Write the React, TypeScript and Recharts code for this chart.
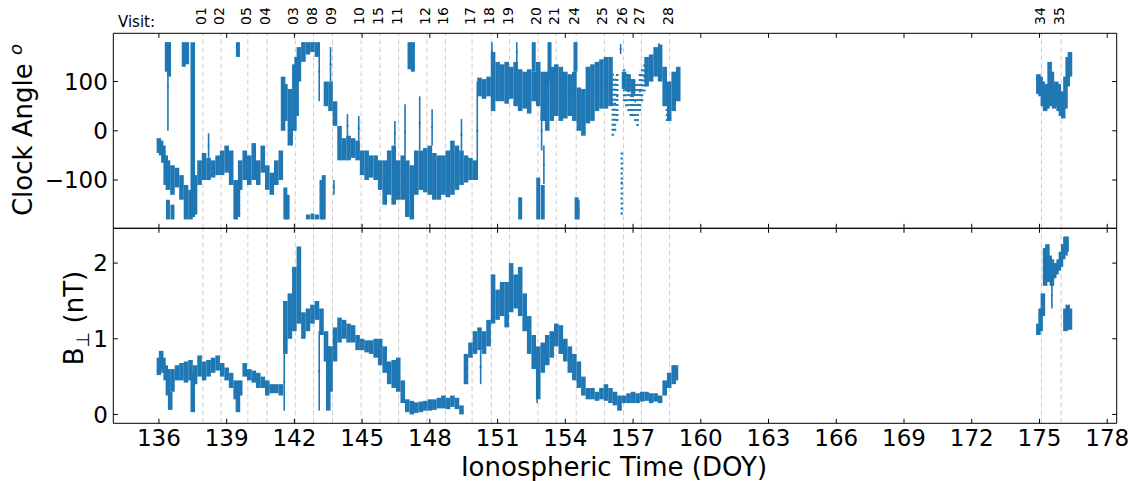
import React from "react";
import { ScatterChart, Scatter, XAxis, YAxis, ErrorBar, ReferenceLine } from "recharts";

// Clock angle and B-perp vs ionospheric time, two stacked panels with visit markers

const BLUE = "#1f77b4";
const FONT = "DejaVu Sans, sans-serif";
const WIDTH = 1138;
const HEIGHT = 481;
const LEFT = 113.3;
const RIGHT = 21.3;
const PANEL_TOP = 33.3;
const PANEL_MID = 228.3;
const PANEL_BOTTOM = 423.3;
const TICK_LEN = 4.5;

const doyTicks = [136, 139, 142, 145, 148, 151, 154, 157, 160, 163, 166, 169, 172, 175, 178];
const doyDomain: [number, number] = [133.98, 178.42];
const angleTicks = [-100, 0, 100];
const angleDomain: [number, number] = [-198, 198];
const bperpTicks = [0, 1, 2];
const bperpDomain: [number, number] = [-0.117, 2.46];

const visitNames = ["01", "02", "05", "04", "03", "08", "09", "10", "15", "11", "12", "16", "17", "18", "19", "20", "21", "24", "25", "26", "27", "28", "34", "35"];
const visitDoy = [137.95, 138.75, 139.94, 140.79, 142.04, 142.85, 143.69, 144.96, 145.8, 146.62, 147.87, 148.69, 149.87, 150.72, 151.53, 152.79, 153.6, 154.48, 155.73, 156.58, 157.37, 158.62, 175.09, 175.96];

// [doy, low, high]
type Row = [number, number, number];

const angleBand: Row[] = [
	[136.0, -45, -15], [136.1, -50, -20], [136.2, -65, -30], [136.3, -110, -50], [136.4, -120, -60],
	[136.6, -130, -70], [136.8, -115, -75], [137.0, -140, -90], [137.2, -180, -110], [137.4, -180, -120],
	[137.5, -175, 180], [137.6, -170, -90], [137.8, -110, -60], [138.0, -100, -45], [138.2, -100, -55],
	[138.4, -95, -60], [138.6, -90, -50], [138.8, -90, -40], [139.0, -85, -30], [139.2, -110, -40],
	[139.4, -180, -100], [139.5, -175, -110], [139.6, -120, -60], [139.8, -100, -40], [140.0, -110, -50],
	[140.2, -100, -25], [140.4, -110, -60], [140.6, -85, -30], [140.8, -120, -70], [141.0, -130, -85],
	[141.2, -110, -60], [141.4, -100, -40], [141.5, 0, 110], [141.6, 20, 95], [141.8, -30, 85],
	[142.0, 0, 135], [142.1, 30, 150], [142.2, 100, 170], [142.4, 140, 180], [142.6, 155, 180],
	[142.8, 160, 180], [143.0, 150, 180], [143.4, 50, 100], [143.6, 40, 100], [143.8, 10, 60],
	[144.0, -60, 10], [144.2, -60, -15], [144.4, -60, -10], [144.6, -55, -15], [144.8, -60, -20],
	[145.0, -90, -40], [145.2, -100, -40], [145.4, -95, -50], [145.6, -100, -50], [145.8, -120, -60],
	[146.0, -150, -60], [146.2, -130, -40], [146.4, -150, -30], [146.6, -140, -60], [146.8, -140, -50],
	[147.0, -175, -60], [147.2, -180, -70], [147.4, -130, -40], [147.6, -120, -40], [147.8, -125, -35],
	[148.0, -130, -30], [148.2, -140, -45], [148.4, -140, -50], [148.6, -130, -50], [148.8, -135, -40],
	[149.0, -130, -20], [149.2, -120, -30], [149.4, -110, -40], [149.6, -105, -50], [149.8, -100, -55],
	[150.0, -100, -60], [150.2, 70, 108], [150.4, 65, 105], [150.6, 70, 110], [150.8, 40, 160],
	[151.0, 60, 140], [151.2, 60, 135], [151.4, 55, 140], [151.6, 65, 130], [151.8, 50, 140],
	[152.0, 40, 125], [152.2, 45, 120], [152.4, 35, 125], [152.6, 60, 120], [152.8, 50, 140],
	[153.0, 20, 120], [153.2, 0, 120], [153.4, 20, 130], [153.6, 30, 135], [153.8, 20, 130],
	[154.0, 25, 120], [154.2, 30, 115], [154.4, 20, 120], [154.6, 0, 88], [154.8, -10, 85],
	[155.0, 15, 130], [155.2, 20, 135], [155.4, 40, 140], [155.6, 45, 145], [155.8, 45, 150],
	[156.0, 50, 150], [156.6, 85, 120], [156.8, 80, 115], [157.0, 75, 105], [157.6, 90, 150],
	[157.8, 100, 155], [158.0, 110, 170], [158.2, 100, 175], [158.4, 50, 130], [158.6, 20, 100],
	[158.8, 40, 120], [159.0, 60, 130],
	[174.95, 75, 115], [175.05, 70, 110], [175.15, 50, 100], [175.25, 40, 90], [175.35, 45, 95],
	[175.45, 50, 140], [175.55, 55, 120], [175.65, 45, 90], [175.75, 50, 100], [175.85, 40, 95],
	[175.95, 30, 75], [176.05, 25, 80], [176.15, 45, 110], [176.25, 90, 150], [176.35, 110, 160],
];

// wrapped pieces near +/-180
const angleWrap: Row[] = [
	[136.35, 120, 180], [136.45, 110, 180], [136.4, -180, -140], [136.6, -180, -150],
	[137.1, 130, 180], [137.25, 135, 180], [139.5, 150, 180], [141.6, -180, -115], [141.7, -180, -130],
	[142.6, -180, -170], [142.8, -180, -168], [143.0, -180, -170], [143.2, -180, -100], [143.3, -180, -90],
	[147.1, 125, 180], [147.25, 120, 180], [152.0, -180, -135], [152.6, 120, 180], [152.8, -180, -95],
	[153.0, -180, -110], [153.3, 100, 180], [154.45, 120, 180], [154.5, -180, -135],
];

const angleThin: Row[] = [
	[136.4, 0, 180], [138.2, -55, -5], [141.9, -30, 10], [143.1, 60, 180], [143.6, 100, 170],
	[143.75, -130, -100], [144.35, -15, 34], [144.85, -20, 30], [146.05, -150, -120], [146.45, -30, 20],
	[146.9, -60, 54], [147.55, -40, 70], [148.1, -30, 44], [149.4, -40, 24], [150.1, -100, 100],
	[150.75, 140, 180], [151.85, 140, 180], [152.95, -40, 40], [153.05, -108, -30], [154.6, -180, -140],
	[156.45, 156, 176], [158.15, 160, 178],
];

const angleSparse: Row[] = [
	[156.1, -10, 120], [156.2, 0, 110], [156.3, 20, 120], [156.5, -170, -40], [156.6, 60, 125],
	[156.7, 50, 120], [156.8, 40, 120], [156.9, 30, 110], [157.0, 30, 110], [157.1, 20, 100],
	[157.2, 10, 95], [157.3, 40, 120], [157.4, 60, 125], [157.5, 80, 140], [158.5, 20, 90],
];

const bperpBand: Row[] = [
	[136.0, 0.52, 0.75], [136.1, 0.6, 0.84], [136.2, 0.55, 0.75], [136.3, 0.45, 0.65], [136.4, 0.25, 0.6],
	[136.5, 0.06, 0.3], [136.6, 0.3, 0.6], [136.8, 0.45, 0.65], [137.0, 0.45, 0.68], [137.2, 0.42, 0.7],
	[137.4, 0.45, 0.72], [137.5, 0.03, 0.55], [137.6, 0.4, 0.65], [137.8, 0.5, 0.78], [138.0, 0.45, 0.7],
	[138.2, 0.5, 0.72], [138.4, 0.55, 0.75], [138.6, 0.58, 0.78], [138.8, 0.5, 0.68], [139.0, 0.45, 0.62],
	[139.2, 0.35, 0.55], [139.4, 0.2, 0.45], [139.5, 0.03, 0.3], [139.6, 0.25, 0.45], [139.8, 0.5, 0.68],
	[140.0, 0.45, 0.6], [140.2, 0.42, 0.58], [140.4, 0.35, 0.55], [140.6, 0.35, 0.5], [140.8, 0.25, 0.45],
	[141.0, 0.28, 0.4], [141.2, 0.28, 0.4], [141.4, 0.25, 0.4], [141.6, 0.8, 1.5], [141.8, 1.0, 1.6],
	[142.0, 1.1, 1.95], [142.2, 1.2, 2.22], [142.4, 1.0, 1.35], [142.6, 1.1, 1.4], [142.8, 1.2, 1.45],
	[143.0, 1.25, 1.5], [143.2, 1.05, 1.4], [143.4, 0.7, 1.1], [143.5, 0.05, 0.9], [143.6, 0.3, 0.9],
	[143.8, 0.7, 1.15], [144.0, 0.95, 1.28], [144.2, 1.0, 1.25], [144.4, 0.95, 1.2], [144.6, 0.95, 1.18],
	[144.8, 0.85, 1.05], [145.0, 0.85, 1.0], [145.2, 0.82, 0.98], [145.4, 0.8, 0.98], [145.6, 0.75, 1.0],
	[145.8, 0.65, 1.0], [146.0, 0.55, 0.9], [146.2, 0.4, 0.7], [146.4, 0.35, 0.72], [146.6, 0.3, 0.75],
	[146.8, 0.15, 0.45], [147.0, 0.03, 0.2], [147.2, 0.0, 0.18], [147.4, 0.02, 0.16], [147.6, 0.03, 0.17],
	[147.8, 0.05, 0.18], [148.0, 0.05, 0.2], [148.2, 0.06, 0.2], [148.4, 0.08, 0.22], [148.6, 0.08, 0.25],
	[148.8, 0.07, 0.22], [149.0, 0.1, 0.25], [149.2, 0.07, 0.22], [149.4, 0.0, 0.12], [149.6, 0.4, 0.8],
	[149.8, 0.75, 0.95], [150.0, 0.8, 1.1], [150.2, 0.85, 1.15], [150.4, 0.8, 1.1], [150.6, 0.9, 1.25],
	[150.8, 1.2, 1.85], [151.0, 1.25, 1.65], [151.2, 1.3, 1.75], [151.4, 1.15, 1.75], [151.6, 1.35, 2.0],
	[151.8, 1.4, 1.85], [152.0, 1.3, 1.95], [152.2, 1.1, 1.6], [152.4, 0.8, 1.3], [152.6, 0.6, 1.05],
	[152.8, 0.2, 0.9], [153.0, 0.55, 0.95], [153.2, 0.65, 1.05], [153.4, 0.75, 1.1], [153.6, 0.9, 1.2],
	[153.8, 0.8, 1.18], [154.0, 0.7, 1.0], [154.2, 0.55, 0.9], [154.4, 0.45, 0.8], [154.6, 0.35, 0.7],
	[154.8, 0.25, 0.5], [155.0, 0.2, 0.35], [155.2, 0.2, 0.35], [155.4, 0.18, 0.3], [155.6, 0.2, 0.35],
	[155.8, 0.18, 0.4], [156.0, 0.15, 0.35], [156.2, 0.12, 0.3], [156.4, 0.05, 0.25], [156.6, 0.15, 0.25],
	[156.8, 0.15, 0.28], [157.0, 0.15, 0.3], [157.2, 0.15, 0.28], [157.4, 0.17, 0.3], [157.6, 0.18, 0.3],
	[157.8, 0.15, 0.28], [158.0, 0.17, 0.28], [158.2, 0.15, 0.25], [158.4, 0.25, 0.45], [158.6, 0.35, 0.55],
	[158.8, 0.4, 0.65], [158.9, 0.45, 0.65],
	[174.95, 1.05, 1.2], [175.05, 1.1, 1.4], [175.15, 1.3, 1.6], [175.25, 1.7, 2.2], [175.35, 1.75, 2.25],
	[175.45, 1.75, 2.1], [175.55, 1.7, 2.05], [175.65, 1.8, 2.0], [175.75, 1.85, 2.0], [175.85, 1.9, 2.05],
	[175.95, 1.95, 2.15], [176.05, 2.05, 2.25], [176.15, 2.1, 2.35], [176.2, 2.15, 2.35],
	[176.15, 1.1, 1.4], [176.25, 1.12, 1.45], [176.35, 1.12, 1.4],
];

const bperpThin: Row[] = [
	[141.55, 0.05, 0.8], [143.1, 0.05, 1.1], [150.25, 0.4, 0.85], [152.75, 0.15, 0.6], [175.55, 1.4, 1.75],
];

type Layer = { rows: Row[]; width: number; dash?: string };

const angleLayers: Layer[] = [
	{ rows: angleSparse, width: 2.4, dash: "2 3" },
	{ rows: angleBand, width: 4.6 },
	{ rows: angleWrap, width: 4.0 },
	{ rows: angleThin, width: 1.6 },
];
const bperpLayers: Layer[] = [
	{ rows: bperpBand, width: 4.6 },
	{ rows: bperpThin, width: 1.6 },
];

const toPoints = (rows: Row[]) => rows.map(([t, lo, hi]) => ({ t, mid: (lo + hi) / 2, half: (hi - lo) / 2 }));

const fmt = (v: number) => String(v).replace("-", "\u2212");

const bottomTick = (withLabel: boolean) => (p: any) => (
	<g>
		<line x1={p.x} x2={p.x} y1={p.y} y2={p.y - TICK_LEN} stroke="#000" strokeWidth={1} />
		{withLabel && (
			<text x={p.x} y={p.y + 23} textAnchor="middle" fontSize={23} fontFamily={FONT} fill="#000">
				{p.payload.value}
			</text>
		)}
	</g>
);

const topTick = (p: any) => <line x1={p.x} x2={p.x} y1={p.y} y2={p.y + TICK_LEN} stroke="#000" strokeWidth={1} />;

const leftTick = (p: any) => (
	<g>
		<line x1={p.x} x2={p.x + TICK_LEN} y1={p.y} y2={p.y} stroke="#000" strokeWidth={1} />
		<text x={p.x - 5.5} y={p.y + 8.3} textAnchor="end" fontSize={23} fontFamily={FONT} fill="#000">
			{fmt(p.payload.value)}
		</text>
	</g>
);

const rightTick = (p: any) => <line x1={p.x} x2={p.x - TICK_LEN} y1={p.y} y2={p.y} stroke="#000" strokeWidth={1} />;

const VisitTag = ({ viewBox, text }: any) => {
	const x = viewBox.x + 3;
	const y = viewBox.y - 8.3;
	return (
		<text x={x} y={y} transform={`rotate(-90, ${x}, ${y})`} fontSize={14} fontFamily={FONT} fill="#000">
			{text}
		</text>
	);
};

const Dot = (p: any) => <circle cx={p.cx} cy={p.cy} r={1.1} fill={BLUE} />;

interface PanelProps {
	marginTop: number;
	marginBottom: number;
	yDomain: [number, number];
	yTicks: number[];
	layers: Layer[];
	visitLabels: boolean;
	xLabels: boolean;
}

// axes are 1px thick so that recharts still draws them; margins are reduced by that pixel
const Panel: React.FC<PanelProps> = ({ marginTop, marginBottom, yDomain, yTicks, layers, visitLabels, xLabels }) => (
	<div style={{ position: "absolute", left: 0, top: 0 }}>
		<ScatterChart width={WIDTH} height={HEIGHT}
			margin={{ top: marginTop - 1, bottom: marginBottom - 1, left: LEFT - 1, right: RIGHT - 1 }}>
			<XAxis xAxisId="b" type="number" dataKey="t" domain={doyDomain} allowDataOverflow ticks={doyTicks} interval={0}
				orientation="bottom" height={1} tickSize={0} tickMargin={0} tickLine={false}
				axisLine={{ stroke: "#000", strokeWidth: 1 }} tick={bottomTick(xLabels)} />
			<XAxis xAxisId="t" type="number" dataKey="t" domain={doyDomain} allowDataOverflow ticks={doyTicks} interval={0}
				orientation="top" height={1} tickSize={0} tickMargin={0} tickLine={false}
				axisLine={{ stroke: "#000", strokeWidth: 1 }} tick={topTick} />
			<YAxis yAxisId="l" type="number" dataKey="mid" domain={yDomain} allowDataOverflow ticks={yTicks} interval={0}
				orientation="left" width={1} tickSize={0} tickMargin={0} tickLine={false}
				axisLine={{ stroke: "#000", strokeWidth: 1 }} tick={leftTick} />
			<YAxis yAxisId="r" type="number" dataKey="mid" domain={yDomain} allowDataOverflow ticks={yTicks} interval={0}
				orientation="right" width={1} tickSize={0} tickMargin={0} tickLine={false}
				axisLine={{ stroke: "#000", strokeWidth: 1 }} tick={rightTick} />
			{visitDoy.map((d, i) => (
				<ReferenceLine key={`v-${i}`} xAxisId="b" yAxisId="l" x={d} stroke="#cccccc" strokeWidth={1} strokeDasharray="5 3"
					label={visitLabels ? { content: (p: any) => <VisitTag viewBox={p.viewBox} text={visitNames[i]} /> } : undefined} />
			))}
			{layers.map((layer, i) => (
				<Scatter key={`s-${i}`} xAxisId="b" yAxisId="l" data={toPoints(layer.rows)} fill={BLUE} shape={Dot} isAnimationActive={false}>
					<ErrorBar dataKey="half" direction="y" width={0} stroke={BLUE} strokeWidth={layer.width}
						strokeDasharray={layer.dash} isAnimationActive={false} />
				</Scatter>
			))}
		</ScatterChart>
	</div>
);

const App: React.FC = () => (
	<div style={{ position: "absolute", left: 0, top: 0, width: WIDTH, height: HEIGHT, background: "#fff", overflow: "hidden" }}>
		<Panel marginTop={PANEL_TOP} marginBottom={HEIGHT - PANEL_MID} yDomain={angleDomain} yTicks={angleTicks}
			layers={angleLayers} visitLabels={true} xLabels={false} />
		<Panel marginTop={PANEL_MID} marginBottom={HEIGHT - PANEL_BOTTOM} yDomain={bperpDomain} yTicks={bperpTicks}
			layers={bperpLayers} visitLabels={false} xLabels={true} />
		<svg width={WIDTH} height={HEIGHT} style={{ position: "absolute", left: 0, top: 0, pointerEvents: "none" }} fontFamily={FONT}>
			<text x={118} y={26.7} fontSize={15} fill="#000">Visit:</text>
			<text x={32} y={130} transform="rotate(-90, 32, 130)" textAnchor="middle" fontSize={26} fill="#000">
				Clock Angle <tspan dy={-10} fontSize={18} fontStyle="italic">o</tspan>
			</text>
			<text x={83} y={318} transform="rotate(-90, 83, 318)" textAnchor="middle" fontSize={26} fill="#000">
				B<tspan dy={6} fontSize={18}>⊥</tspan>
				<tspan dy={-6}> (nT)</tspan>
			</text>
			<text x={614} y={476} textAnchor="middle" fontSize={26} fill="#000">Ionospheric Time (DOY)</text>
		</svg>
	</div>
);

export default App;
